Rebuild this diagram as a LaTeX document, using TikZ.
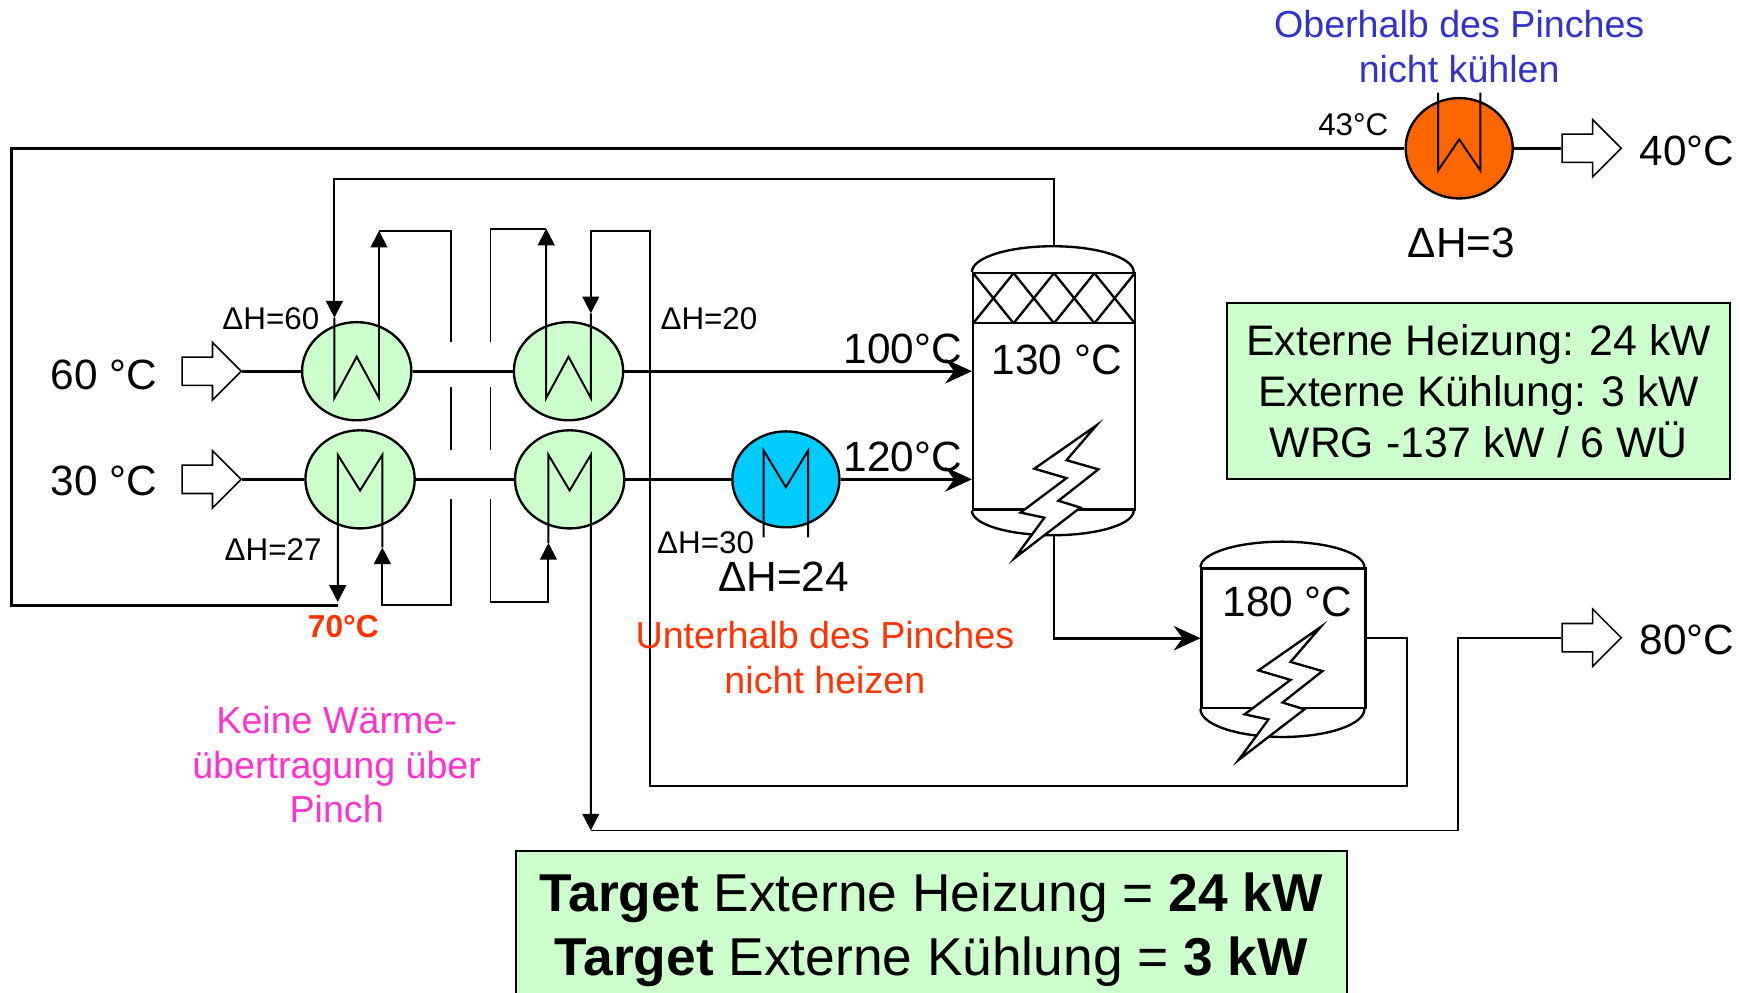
\documentclass[tikz,border=0pt]{standalone}
\usepackage{fontspec}
\setmainfont{Liberation Sans}
\usetikzlibrary{shapes.geometric,shapes.arrows,arrows.meta,calc}

\definecolor{boxgreen}{RGB}{204,255,204}
\definecolor{coolorange}{RGB}{255,102,0}
\definecolor{heatblue}{RGB}{0,204,255}
\definecolor{noteblue}{RGB}{51,51,204}
\definecolor{notered}{RGB}{255,51,0}
\definecolor{notepink}{RGB}{255,51,204}

% Blitz (Heizung) relativ zur linken unteren Ecke der Kolonne
\newcommand{\blitz}{%
  \draw[bolt] (111.6,-76.5) -- (56,-37.7) -- (84.8,-29.2) -- (43.6,1.7) -- (65,6.3) -- (38.2,42.6) -- (97.3,-2.8) -- (77.6,-8.9) -- (113.4,-37.1) -- (84.8,-45.3) -- cycle;}

\tikzset{
  hex/.style={ellipse, draw, line width=0.6pt, fill=boxgreen, minimum width=9.8mm, minimum height=8.8mm, inner sep=0},
  stream/.style={line width=0.7pt},
  pipe/.style={line width=0.5pt},
  flow/.style={-{Stealth[length=2.4mm, width=2.2mm, inset=0.8mm]}},
  tri/.style={-{Triangle[length=1.5mm, width=1.5mm]}},
  hollow/.style={single arrow, draw, line width=0.4pt, fill=white, minimum height=5.3mm, inner xsep=0pt, inner ysep=1.2mm, single arrow head extend=1.3mm, single arrow head indent=0pt},
  vessel/.style={rectangle, draw, line width=0.6pt, inner sep=0},
  bolt/.style={draw, line width=0.6pt, fill=white, line join=miter},
  dh/.style={font=\fontsize{8}{10}\selectfont, inner sep=0},
  temp/.style={font=\fontsize{10.8}{13}\selectfont, inner sep=0},
  note/.style={font=\fontsize{9.6}{11.4}\selectfont, align=center, inner sep=0},
}

\begin{document}
\begin{tikzpicture}[x=0.01cm, y=-0.01cm]
\useasboundingbox (0,0) rectangle (1560,890);
\clip (0,0) rectangle (1560,890);

% Waermeuebertrager, Heizer, Kuehler
\node (H1) [hex] at (320,333) {};
\node (H2) [hex] at (510,333) {};
\node (H3) [hex] at (323,430) {};
\node (H4) [hex] at (511,430) {};
\node (heat) [hex, fill=heatblue, minimum width=9.6mm, minimum height=8.6mm] at (705,430) {};
\node (cool) [hex, fill=coolorange, minimum width=9.6mm, minimum height=9mm] at (1309,133) {};

% Ein- und Auslaesse
\node (in60) [hollow] at (183.5,333) {};
\node (in30) [hollow] at (183.5,430) {};
\node (out40) [hollow] at (1421.5,133) {};
\node (out80) [hollow] at (1421.5,572) {};

% Kolonne 1
\node (col1) [vessel, minimum width=14.5mm, minimum height=21.2mm] at (945.5,351) {};
\draw[line width=0.6pt] (col1.north west) arc[start angle=180, end angle=0, x radius=7.25mm, y radius=2.3mm];
\draw[line width=0.6pt] (col1.south west) arc[start angle=180, end angle=360, x radius=7.25mm, y radius=2.2mm];
\draw[line width=0.6pt] (873,290) -- (1018,290);
\foreach \x in {873,909.25,945.5,981.75} {
  \draw[line width=0.6pt] (\x,245) -- (\x+36.25,290);
  \draw[line width=0.6pt] (\x+36.25,245) -- (\x,290);
}
\node (t130) [temp] at (948,323) {130 °C};

% Kolonne 2
\node (col2) [vessel, minimum width=14.7mm, minimum height=12.5mm] at (1151.5,572.5) {};
\draw[line width=0.6pt] (col2.north west) arc[start angle=180, end angle=0, x radius=7.35mm, y radius=2.3mm];
\draw[line width=0.6pt] (col2.south west) arc[start angle=180, end angle=360, x radius=7.35mm, y radius=2.5mm];
\node (t180) [temp] at (1155,540) {180 °C};

% Hauptstroeme
\coordinate (k70) at (303,543);
\draw[stream] (in60.east) -- (H1) -- (H2);
\draw[stream, flow] (H2) -- (H2 -| col1.west);
\draw[stream] (in30.east) -- (H3) -- (H4) -- (heat);
\draw[stream, flow] (heat) -- (heat -| col1.west);
\draw[stream] (k70) -- (10,543) |- (cool);
\draw[stream] (cool) -- (out40.west);

\coordinate (c1top) at ($(col1.north)+(0,-23)$);
\coordinate (c1bot) at ($(col1.south)+(0,22)$);
\draw[stream, flow] (c1bot) |- (col2.west);

% Anschluesse der Waermeuebertrager
\coordinate (h1a) at (300,285);
\coordinate (h1b) at (340,207);
\coordinate (h3a) at (303,540);
\coordinate (h3b) at (343,491);
\coordinate (h2a) at (490,205);
\coordinate (h2b) at (530,281);
\coordinate (h4a) at (492,487);
\coordinate (h4b) at (530,745);

\draw[pipe, tri] (c1top) -- ++(0,-60) -| (h1a);
\draw[pipe, tri] (h1a) -- (300,357) -- (320,320) -- (340,357) -- (h1b);
\draw[pipe] (h1b) -- (405,207) -- (405,307);
\draw[pipe] (405,347) -- (405,404);
\draw[pipe, tri] (405,448) -- (405,543) -| (h3b);
\draw[pipe, tri] (h3b) -- ++(0,-83) -- ++(-20,32) -- ++(-20,-32) -- (h3a);

\draw[pipe, tri] (col2.east) -- (1262,572.5) -- (1262,705) -- (583,705) -- (583,207) -| (h2b);
\draw[pipe, tri] (h2b) -- (530,357) -- (510,320) -- (490,357) -- (h2a);
\draw[pipe] (h2a) -- (440,205) -- (440,307);
\draw[pipe] (440,347) -- (440,404);
\draw[pipe, tri] (440,448) -- (440,540) -| (h4a);
\draw[pipe, tri] (h4a) -- ++(0,-79) -- ++(19,32) -- ++(19,-32) -- (h4b);
\draw[pipe] (h4b) -- (1308,745) |- (out80.west);

\draw[pipe] (685,482) -- (685,404) -- (705,437) -- (725,404) -- (725,482);
\draw[pipe] (1290,83) -- (1290,153) -- (1309,125) -- (1328,153) -- (1328,83);

% Blitze
\begin{scope}[shift={(col1.south west)}] \blitz \end{scope}
\begin{scope}[shift={($(col2.south west)+(-4,3)$)}] \blitz \end{scope}

% Beschriftung
\node (t60) [temp] at (93,336) {60 °C};
\node (t30) [temp] at (93,431) {30 °C};
\node (t40) [temp, anchor=west] at (1470,135) {40°C};
\node (t80) [temp, anchor=west] at (1470,574) {80°C};
\node (t100) [temp] at (810,313) {100°C};
\node (t120) [temp] at (810,410) {120°C};
\node (t43) [dh] at (1214,112) {43°C};
\node (t70) [dh, font=\fontsize{8.1}{10}\selectfont\bfseries, text=notered] at (308,562) {70°C};
\node (dh60) [dh] at (243,286) {ΔH=60};
\node (dh27) [dh] at (245,493) {ΔH=27};
\node (dh20) [dh] at (636,286) {ΔH=20};
\node (dh30) [dh] at (633,487) {ΔH=30};
\node (dh24) [temp] at (703,517) {ΔH=24};
\node (dh3) [temp] at (1311,218) {ΔH=3};

\node (oben) [note, text=noteblue] at (1309,42) {Oberhalb des Pinches\\nicht kühlen};
\node (unten) [note, text=notered] at (740,590) {Unterhalb des Pinches\\nicht heizen};
\node (pinch) [note, text=notepink] at (302,686) {Keine Wärme-\\übertragung über\\Pinch};

\node (info) [draw, fill=boxgreen, line width=0.5pt, minimum width=45.1mm, minimum height=15.8mm, align=center, font=\fontsize{10.9}{13.1}\selectfont] at (1326.5,351) {Externe Heizung: 24 kW\\Externe Kühlung: 3 kW\\WRG -137 kW / 6 WÜ};
\node (target) [draw, fill=boxgreen, line width=0.5pt, minimum width=74.5mm, minimum height=14.2mm, align=center, font=\fontsize{13.6}{16.2}\selectfont] at (835.5,834) {\textbf{Target} Externe Heizung = \textbf{24 kW}\\\textbf{Target} Externe Kühlung = \textbf{3 kW}};
\end{tikzpicture}
\end{document}
